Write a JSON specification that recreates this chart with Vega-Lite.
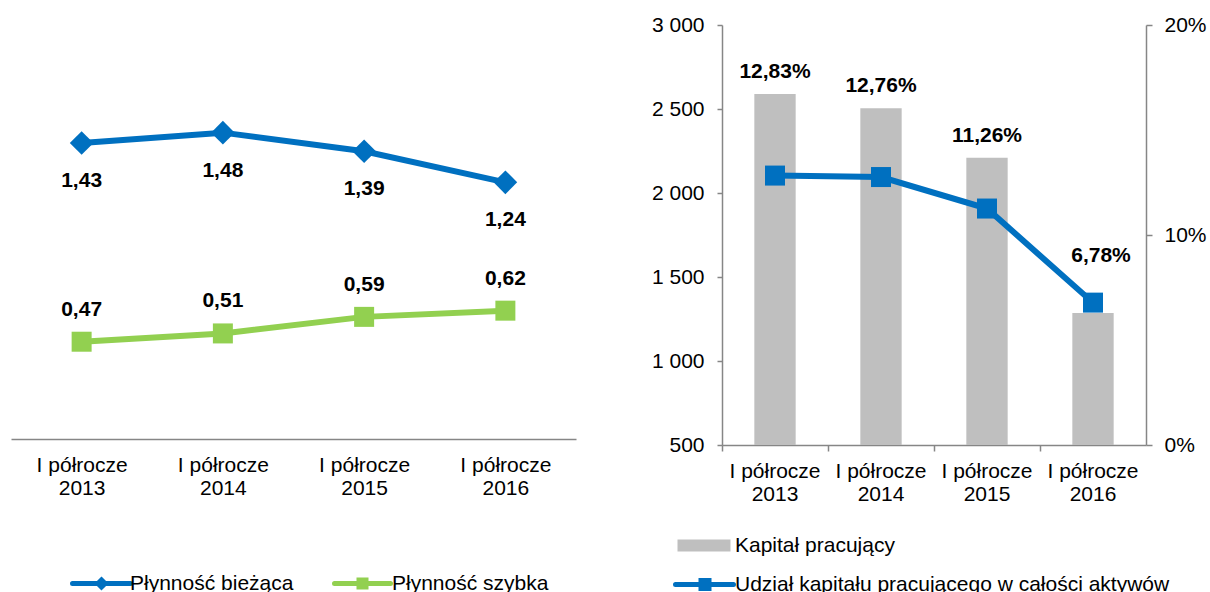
{
  "$schema": "https://vega.github.io/schema/vega-lite/v6.json",
  "padding": {"left": 11, "top": 14, "right": 0, "bottom": 0},
  "background": "white",
  "config": {
    "locale": {"number": {"decimal": ",", "thousands": " ", "grouping": [3], "currency": ["", " zł"]}},
    "view": {"stroke": null},
    "font": "Liberation Sans",
    "axis": {"labelFont": "Liberation Sans", "labelFontSize": 21, "labelColor": "#000000", "domainColor": "#868686", "tickColor": "#868686", "domainWidth": 1.5, "tickWidth": 1.5, "grid": false, "title": null},
    "legend": {"labelFont": "Liberation Sans", "labelFontSize": 21, "labelColor": "#000000", "labelLimit": 800}
  },
  "bounds": "flush",
  "spacing": 146,
  "resolve": {"scale": {"color": "independent"}, "legend": {"color": "independent"}},
  "hconcat": [
    {
      "width": 565,
      "height": 414,
      "data": {"values": [
        {"okres": "I półrocze 2013", "wskaznik": "Płynność bieżąca", "wartosc": 1.43},
        {"okres": "I półrocze 2014", "wskaznik": "Płynność bieżąca", "wartosc": 1.48},
        {"okres": "I półrocze 2015", "wskaznik": "Płynność bieżąca", "wartosc": 1.39},
        {"okres": "I półrocze 2016", "wskaznik": "Płynność bieżąca", "wartosc": 1.24},
        {"okres": "I półrocze 2013", "wskaznik": "Płynność szybka", "wartosc": 0.47},
        {"okres": "I półrocze 2014", "wskaznik": "Płynność szybka", "wartosc": 0.51},
        {"okres": "I półrocze 2015", "wskaznik": "Płynność szybka", "wartosc": 0.59},
        {"okres": "I półrocze 2016", "wskaznik": "Płynność szybka", "wartosc": 0.62}
      ]},
      "encoding": {
        "x": {"field": "okres", "type": "nominal", "sort": null,
          "axis": {"labelExpr": "[substring(datum.label, 0, 10), substring(datum.label, 11)]", "labelAngle": 0, "ticks": false, "labelPadding": 15, "labelLineHeight": 23, "labelBaseline": "top"}},
        "y": {"field": "wartosc", "type": "quantitative", "scale": {"domain": [0, 2], "nice": false}, "axis": null},
        "color": {"field": "wskaznik", "type": "nominal",
          "scale": {"domain": ["Płynność bieżąca", "Płynność szybka"], "range": ["#0070C0", "#92D050"]},
          "legend": {"orient": "none", "legendX": 59, "legendY": 546, "direction": "horizontal", "title": null,
            "symbolSize": 400, "labelOffset": 35, "columnPadding": 30, "symbolStrokeWidth": 5, "labelLimit": 800,
            "encode": {"symbols": {"update": {
              "shape": {"signal": "datum.value === 'Płynność bieżąca' ? 'M-1,0H4.8M1.55,0L1.9,-0.35L2.25,0L1.9,0.35Z' : 'M-1,0H4.6M1.45,-0.35H2.15V0.35H1.45Z'"},
              "fill": {"signal": "datum.value === 'Płynność bieżąca' ? '#0070C0' : '#92D050'"},
              "stroke": {"signal": "datum.value === 'Płynność bieżąca' ? '#0070C0' : '#92D050'"},
              "strokeWidth": {"value": 5},
              "strokeCap": {"value": "round"},
              "opacity": {"value": 1}
            }}}}}
      },
      "layer": [
        {"mark": {"type": "line", "strokeWidth": 6}},
        {"transform": [{"filter": "datum.wskaznik === 'Płynność bieżąca'"}],
          "mark": {"type": "point", "shape": "diamond", "filled": true, "opacity": 1, "size": 560}},
        {"transform": [{"filter": "datum.wskaznik === 'Płynność szybka'"}],
          "mark": {"type": "point", "shape": "square", "filled": true, "opacity": 1, "size": 400}},
        {"transform": [{"filter": "datum.wskaznik === 'Płynność bieżąca'"}],
          "mark": {"type": "text", "dy": 38, "fontSize": 21, "fontWeight": "bold", "font": "Liberation Sans"},
          "encoding": {"text": {"field": "wartosc", "type": "quantitative", "format": ".2f"}, "color": {"value": "#000000"}}},
        {"transform": [{"filter": "datum.wskaznik === 'Płynność szybka'"}],
          "mark": {"type": "text", "dy": -32, "fontSize": 21, "fontWeight": "bold", "font": "Liberation Sans"},
          "encoding": {"text": {"field": "wartosc", "type": "quantitative", "format": ".2f"}, "color": {"value": "#000000"}}}
      ]
    },
    {
      "width": 424,
      "height": 420,
      "data": {"values": [
        {"okres": "I półrocze 2013", "kapital": 2590, "udzial": 0.1283},
        {"okres": "I półrocze 2014", "kapital": 2505, "udzial": 0.1276},
        {"okres": "I półrocze 2015", "kapital": 2210, "udzial": 0.1126},
        {"okres": "I półrocze 2016", "kapital": 1285, "udzial": 0.0678}
      ]},
      "encoding": {
        "x": {"field": "okres", "type": "nominal", "sort": null,
          "scale": {"paddingInner": 0.61, "paddingOuter": 0.305},
          "axis": {"labelExpr": "[substring(datum.label, 0, 10), substring(datum.label, 11)]", "labelAngle": 0, "ticks": true, "tickSize": 6, "bandPosition": -0.78, "labelPadding": 9, "labelLineHeight": 23, "labelBaseline": "top"}}
      },
      "layer": [
        {
          "layer": [
            {"mark": {"type": "bar", "opacity": 1},
              "encoding": {
                "y": {"field": "kapital", "type": "quantitative", "scale": {"domain": [500, 3000], "nice": false},
                  "axis": {"values": [500, 1000, 1500, 2000, 2500, 3000], "format": ",.0f", "tickSize": 5, "labelPadding": 13}},
                "y2": {"datum": 500},
                "color": {"datum": "Kapitał pracujący", "type": "nominal",
                  "scale": {"domain": ["Kapitał pracujący", "Udział kapitału pracującego w całości aktywów"], "range": ["#BFBFBF", "#0070C0"]},
                  "legend": {"orient": "none", "legendX": -47, "legendY": 510, "direction": "vertical", "title": null,
                    "symbolSize": 400, "labelOffset": 39, "rowPadding": 14, "symbolStrokeWidth": 5, "labelLimit": 800,
                    "encode": {"symbols": {"update": {
                      "shape": {"signal": "datum.value === 'Kapitał pracujący' ? 'M-0.8,-0.6H4.5V0.6H-0.8Z' : 'M-1,0H4.8M1.55,-0.4H2.35V0.4H1.55Z'"},
                      "fill": {"signal": "datum.value === 'Kapitał pracujący' ? '#BFBFBF' : '#0070C0'"},
                      "stroke": {"signal": "datum.value === 'Kapitał pracujący' ? 'transparent' : '#0070C0'"},
                      "strokeWidth": {"signal": "datum.value === 'Kapitał pracujący' ? 0 : 5"},
                      "strokeCap": {"value": "round"},
                      "opacity": {"value": 1}
                    }}}}}
              }},
            {"transform": [{"filter": "datum.okres !== 'I półrocze 2016'"}],
              "mark": {"type": "text", "dy": -22, "fontSize": 21, "fontWeight": "bold", "font": "Liberation Sans", "color": "#000000"},
              "encoding": {
                "y": {"field": "kapital", "type": "quantitative"},
                "text": {"field": "udzial", "type": "quantitative", "format": ".2%"}}}
          ]
        },
        {
          "layer": [
            {"mark": {"type": "line", "strokeWidth": 6},
              "encoding": {
                "y": {"field": "udzial", "type": "quantitative", "scale": {"domain": [0, 0.2], "nice": false},
                  "axis": {"orient": "right", "values": [0, 0.1, 0.2], "format": ".0%", "tickSize": 6, "labelPadding": 12}},
                "color": {"datum": "Udział kapitału pracującego w całości aktywów", "type": "nominal",
                  "legend": {"orient": "none", "legendX": -47, "legendY": 510, "direction": "vertical", "title": null,
                    "symbolSize": 400, "labelOffset": 39, "rowPadding": 14, "symbolStrokeWidth": 5, "labelLimit": 800,
                    "encode": {"symbols": {"update": {
                      "shape": {"signal": "datum.value === 'Kapitał pracujący' ? 'M-0.8,-0.6H4.5V0.6H-0.8Z' : 'M-1,0H4.8M1.55,-0.4H2.35V0.4H1.55Z'"},
                      "fill": {"signal": "datum.value === 'Kapitał pracujący' ? '#BFBFBF' : '#0070C0'"},
                      "stroke": {"signal": "datum.value === 'Kapitał pracujący' ? 'transparent' : '#0070C0'"},
                      "strokeWidth": {"signal": "datum.value === 'Kapitał pracujący' ? 0 : 5"},
                      "strokeCap": {"value": "round"},
                      "opacity": {"value": 1}
                    }}}}}}},
            {"mark": {"type": "point", "shape": "square", "filled": true, "opacity": 1, "size": 400, "color": "#0070C0"},
              "encoding": {
                "y": {"field": "udzial", "type": "quantitative"}}},
            {"transform": [{"filter": "datum.okres === 'I półrocze 2016'"}],
              "mark": {"type": "text", "dy": -47, "dx": 8, "fontSize": 21, "fontWeight": "bold", "font": "Liberation Sans", "color": "#000000"},
              "encoding": {
                "y": {"field": "udzial", "type": "quantitative"},
                "text": {"field": "udzial", "type": "quantitative", "format": ".2%"}}}
          ]
        }
      ],
      "resolve": {"scale": {"y": "independent"}}
    }
  ]
}
